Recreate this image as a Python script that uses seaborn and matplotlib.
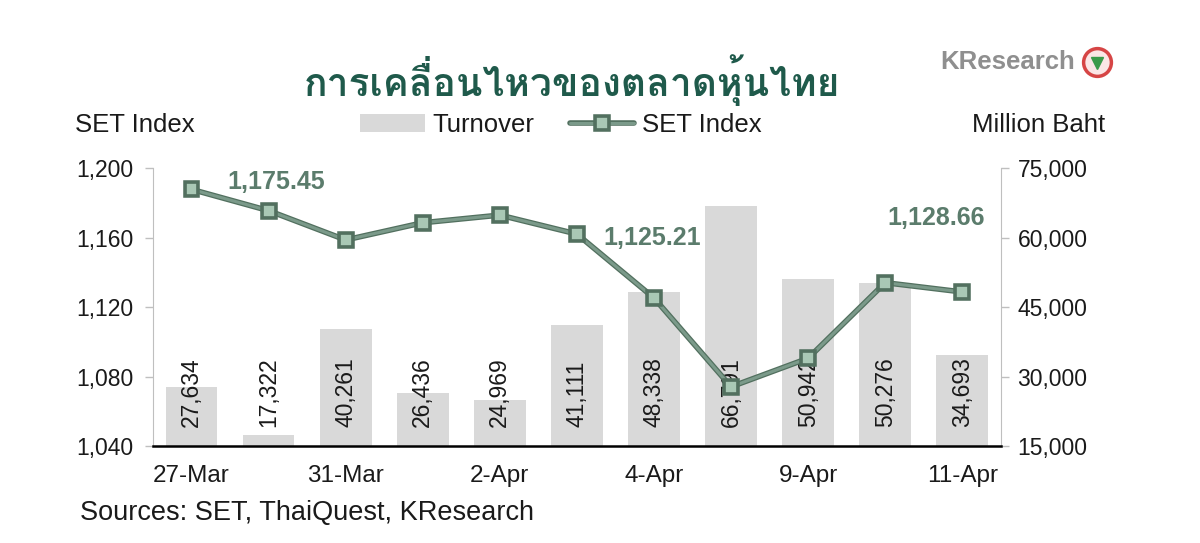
import numpy as np
import pandas as pd
import matplotlib
matplotlib.use("Agg")
import matplotlib.pyplot as plt
import seaborn as sns
from matplotlib import font_manager as fm
from matplotlib.lines import Line2D
from matplotlib.patches import Patch
from matplotlib.ticker import FuncFormatter, FixedLocator
import matplotlib.patheffects as pe

# ---------------- data ----------------
dates = ["27-Mar", "28-Mar", "31-Mar", "1-Apr", "2-Apr", "3-Apr",
         "4-Apr", "8-Apr", "9-Apr", "10-Apr", "11-Apr"]
shown_dates = ["27-Mar", "31-Mar", "2-Apr", "4-Apr", "9-Apr", "11-Apr"]
set_index = [1187.7, 1175.45, 1158.6, 1168.5, 1172.9, 1162.0,
             1125.21, 1074.1, 1090.5, 1134.0, 1128.66]
turnover = [27634, 17322, 40261, 26436, 24969, 41111,
            48338, 66791, 50942, 50276, 34693]
annotated = {"28-Mar": "1,175.45", "4-Apr": "1,125.21", "11-Apr": "1,128.66"}
title = "การเคลื่อนไหวของตลาดหุ้นไทย"
left_ticks = [1040, 1080, 1120, 1160, 1200]
right_ticks = [15000, 30000, 45000, 60000, 75000]

df = pd.DataFrame({"date": dates, "set": set_index, "turnover": turnover})

# ---------------- fonts ----------------
sns.set_style("white")
names = {f.name for f in fm.fontManager.ttflist}
base = "Liberation Sans" if "Liberation Sans" in names else "DejaVu Sans"
narrow = "Liberation Sans Narrow" if "Liberation Sans Narrow" in names else base
plt.rcParams["font.family"] = [base, "DejaVu Sans"]


def find_font_with(ch):
    try:
        from fontTools.ttLib import TTFont
    except Exception:
        return None
    cands = []
    for f in fm.fontManager.ttflist:
        try:
            tt = TTFont(f.fname, fontNumber=0, lazy=True)
            cmap = tt.getBestCmap()
            if cmap and ord(ch) in cmap:
                cands.append(f.name)
        except Exception:
            pass
    return cands[0] if cands else None


thai_font = find_font_with("ก")
title_family = [thai_font, "DejaVu Sans"] if thai_font else ["DejaVu Sans"]

# ---------------- colors ----------------
bar_c = "#d9d9d9"
line_c = "#7b9a8a"
line_edge = "#52705f"
mfc = "#a9c8b5"
ann_c = "#5b7c6c"
title_c = "#1f5a4b"
spine_c = "#bfbfbf"
txt_c = "#1a1a1a"

LW = 2.2
STROKE = 4.0
MS = 8.5

# ---------------- figure ----------------
fig = plt.figure(figsize=(12, 5.43), dpi=100)
ax = fig.add_axes([0.1275, 0.1786, 0.7065, 0.512])
ax2 = ax.twinx()

sns.barplot(data=df, x="date", y="turnover", order=dates, ax=ax2,
            color=bar_c, saturation=1, width=0.67, linewidth=0)
sns.pointplot(data=df, x="date", y="set", order=dates, ax=ax,
              color=line_c, markers="s", errorbar=None,
              linewidth=LW, markersize=MS, markeredgewidth=1.2,
              markerfacecolor=mfc, markeredgecolor=line_edge)
for ln in ax.lines:
    ln.set_path_effects([pe.Stroke(linewidth=STROKE, foreground=line_edge), pe.Normal()])
    ln.set_zorder(5)

ax.set_zorder(ax2.get_zorder() + 1)
ax.patch.set_visible(False)

# axes limits
ax.set_xlim(-0.5, len(dates) - 0.5)
ax.set_ylim(left_ticks[0], left_ticks[-1])
ax2.set_ylim(right_ticks[0], right_ticks[-1])
ax.set_yticks(left_ticks)
ax2.set_yticks(right_ticks)
fmt = FuncFormatter(lambda v, p: f"{v:,.0f}")
ax.yaxis.set_major_formatter(fmt)
ax2.yaxis.set_major_formatter(fmt)
ax.set_xlabel("")
ax.set_ylabel("")
ax2.set_xlabel("")
ax2.set_ylabel("")

# x ticks: labels at every other category, tick marks at boundaries
pos = {d: i for i, d in enumerate(dates)}
ax.set_xticks([pos[d] for d in shown_dates])
ax.set_xticklabels(shown_dates, fontsize=17.5, color=txt_c, family=[narrow, base])
ax.tick_params(axis="x", which="major", length=0, pad=14)
ax.xaxis.set_minor_locator(FixedLocator(np.arange(-0.5, len(dates), 1.0)))
ax.tick_params(axis="x", which="minor", length=7, width=1.2, color="black", direction="out")
ax2.tick_params(axis="x", which="both", length=0, labelbottom=False)

ax.tick_params(axis="y", length=6, width=1, color=spine_c, labelsize=16.5,
               labelcolor=txt_c, pad=8)
ax2.tick_params(axis="y", length=6, width=1, color=spine_c, labelsize=16.5,
                labelcolor=txt_c, pad=6)

for a in (ax, ax2):
    a.spines["top"].set_visible(False)
    a.spines["left"].set_color(spine_c)
    a.spines["right"].set_color(spine_c)
    a.spines["bottom"].set_color("black")
    a.spines["bottom"].set_linewidth(1.8)
ax.spines["right"].set_visible(False)
ax2.spines["left"].set_visible(False)
ax2.spines["bottom"].set_visible(False)

# bar value labels (rotated, near the base)
for i, v in enumerate(turnover):
    ax2.text(i, 19100, f"{v:,}", rotation=90, ha="center", va="bottom",
             fontsize=16.5, color=txt_c, zorder=3)

# annotations of the SET index
offsets = {"28-Mar": (8, 29), "4-Apr": (-2, 60), "11-Apr": (-26, 74)}
for d, lab in annotated.items():
    i = pos[d]
    ax.annotate(lab, xy=(i, set_index[i]), xytext=offsets[d],
                textcoords="offset pixels", ha="center", va="center",
                fontsize=18, fontweight="bold", color=ann_c, zorder=6)

# headers
fig.text(75 / 1200, 1 - 125 / 543, "SET Index", fontsize=18.5, color=txt_c,
         ha="left", va="center")
fig.text(1105 / 1200, 1 - 125 / 543, "Million Baht", fontsize=18.5, color=txt_c,
         ha="right", va="center")

handles = [Patch(facecolor=bar_c, edgecolor="none"),
           Line2D([0], [0], color=line_c, lw=LW, marker="s", markersize=MS,
                  markerfacecolor=mfc, markeredgecolor=line_edge, markeredgewidth=1.2,
                  path_effects=[pe.Stroke(linewidth=STROKE, foreground=line_edge), pe.Normal()])]
fig.legend(handles, ["Turnover", "SET Index"], loc="center",
           bbox_to_anchor=(561 / 1200, 1 - 125 / 543), ncol=2, frameon=False,
           fontsize=18.5, handlelength=2.5, handleheight=0.65, handletextpad=0.3,
           columnspacing=1.4, labelcolor=txt_c)

# title
fig.text(572 / 1200, 1 - 80 / 543, title, fontsize=28, fontweight="bold",
         color=title_c, ha="center", va="center", family=title_family)

# logo
fig.text(1075 / 1200, 1 - 62 / 543, "KResearch", fontsize=18.5, fontweight="bold",
         color="#8f8f8f", ha="right", va="center")
fig.add_artist(Line2D([1097 / 1200], [1 - 62 / 543], marker="o", markersize=20,
                      markerfacecolor="#fbe6e6", markeredgecolor="#d64545",
                      markeredgewidth=2.5, transform=fig.transFigure))
fig.add_artist(Line2D([1097 / 1200], [1 - 63 / 543], marker="v", markersize=9,
                      markerfacecolor="#3a9a4a", markeredgecolor="#3a9a4a",
                      transform=fig.transFigure))

# source
fig.text(80 / 1200, 1 - 513 / 543, "Sources: SET, ThaiQuest, KResearch",
         fontsize=19.5, color=txt_c, ha="left", va="center", family=[narrow, base])

fig.savefig("out.png", dpi=100, facecolor="white")
